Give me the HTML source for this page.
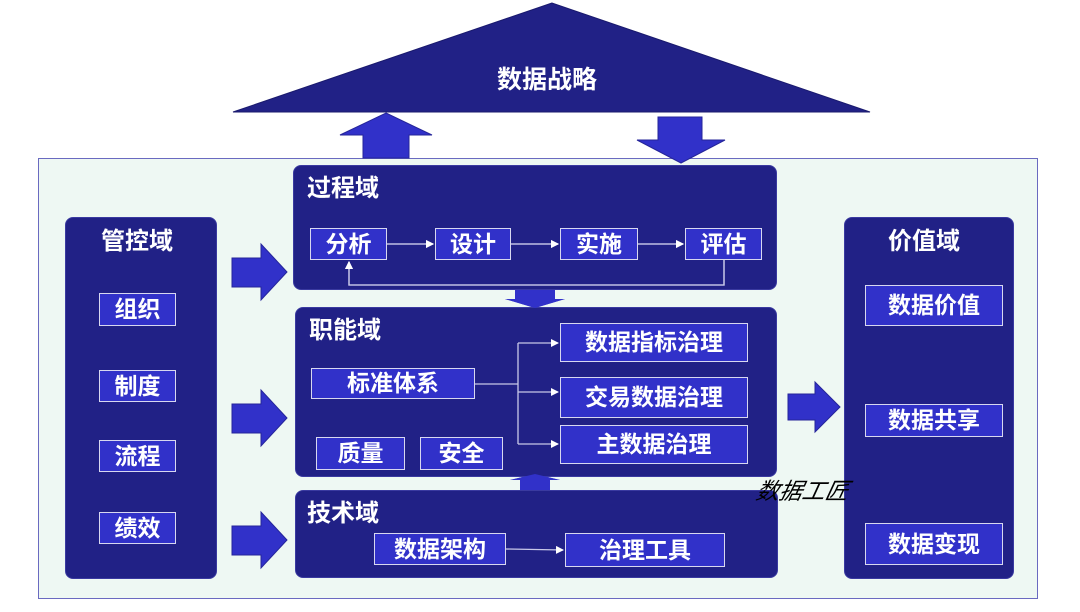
<!DOCTYPE html>
<html><head><meta charset="utf-8"><style>
body{margin:0;width:1080px;height:612px;background:#fff;position:relative;overflow:hidden;font-family:"Liberation Sans","Noto Sans CJK SC",sans-serif}
.a{position:absolute}
.box{position:absolute;background:#212186;border-radius:8px;border:1px solid #3a3aa0;box-sizing:border-box}
.t{position:absolute;color:#fff;font-weight:bold;font-size:24px;line-height:1}
.it{position:absolute;background:#3131c9;border:1.5px solid #d8d8f0;box-sizing:border-box;color:#fff;font-weight:bold;font-size:23px;display:flex;align-items:center;justify-content:center;line-height:1}
</style></head><body>
<div class="a" style="left:38px;top:158px;width:1000px;height:441px;background:#eef8f3;border:1.5px solid #6a6ac0;box-sizing:border-box"></div>
<svg class="a" style="left:0;top:0" width="1080" height="612">
<polygon points="552,3 233,112 870,112" fill="#212186" stroke="#1a1a6e"/>
<polygon points="386,113 432,135 409,135 409,158 363,158 363,135 340,135" fill="#3131c9" stroke="#25259a"/>
<polygon points="658,117 702,117 702,140 725,140 681,163 637,140 658,140" fill="#3131c9" stroke="#25259a"/>
<polygon points="232,258 261,258 261,244 287,272 261,300 261,287 232,287" fill="#3131c9" stroke="#25259a"/>
<polygon points="232,404 261,404 261,390 287,418 261,446 261,433 232,433" fill="#3131c9" stroke="#25259a"/>
<polygon points="232,526 261,526 261,512 287,540 261,568 261,555 232,555" fill="#3131c9" stroke="#25259a"/>
<polygon points="788,394 815,394 815,382 840,407 815,432 815,420 788,420" fill="#3131c9" stroke="#25259a"/>
<polygon points="515,290 555,290 555,299 565,299 535,308 505,299 515,299" fill="#3131c9"/>
<polygon points="535,474 560,480 550,480 550,490 520,490 520,480 510,480" fill="#3131c9"/>
</svg>
<div class="t" style="left:497px;top:68px;font-size:25px">数据战略</div>
<div class="box" style="left:65px;top:217px;width:152px;height:362px"></div>
<div class="t" style="left:101px;top:230px">管控域</div>
<div class="it" style="left:99px;top:293px;width:77px;height:33px">组织</div>
<div class="it" style="left:99px;top:370px;width:77px;height:32px">制度</div>
<div class="it" style="left:99px;top:440px;width:77px;height:32px">流程</div>
<div class="it" style="left:99px;top:512px;width:77px;height:32px">绩效</div>
<div class="box" style="left:844px;top:217px;width:170px;height:362px"></div>
<div class="t" style="left:888px;top:230px">价值域</div>
<div class="it" style="left:865px;top:285px;width:138px;height:41px">数据价值</div>
<div class="it" style="left:865px;top:404px;width:138px;height:33px">数据共享</div>
<div class="it" style="left:865px;top:523px;width:138px;height:42px">数据变现</div>
<div class="box" style="left:293px;top:165px;width:484px;height:125px"></div>
<div class="t" style="left:307px;top:177px">过程域</div>
<div class="it" style="left:310px;top:228px;width:77px;height:32px">分析</div>
<div class="it" style="left:435px;top:228px;width:76px;height:32px">设计</div>
<div class="it" style="left:560px;top:228px;width:78px;height:32px">实施</div>
<div class="it" style="left:685px;top:228px;width:77px;height:32px">评估</div>
<svg class="a" style="left:0;top:0" width="1080" height="612">
<defs><marker id="m" markerWidth="8" markerHeight="8" refX="7" refY="4" orient="auto" markerUnits="userSpaceOnUse"><path d="M0,0L8,4L0,8z" fill="#fff"/></marker></defs>
<g stroke="#c8c8e8" stroke-width="1.3" fill="none">
<line x1="387" y1="244" x2="433" y2="244" marker-end="url(#m)"/>
<line x1="511" y1="244" x2="558" y2="244" marker-end="url(#m)"/>
<line x1="638" y1="244" x2="683" y2="244" marker-end="url(#m)"/>
<polyline points="724,260 724,285 349,285 349,262" marker-end="url(#m)"/>
<polyline points="475,384 518,384"/>
<polyline points="518,343 518,444"/>
<line x1="518" y1="343" x2="558" y2="343" marker-end="url(#m)"/>
<line x1="518" y1="392" x2="558" y2="392" marker-end="url(#m)"/>
<line x1="518" y1="444" x2="558" y2="444" marker-end="url(#m)"/>
<line x1="506" y1="549" x2="563" y2="550" marker-end="url(#m)"/>
</g></svg>
<div class="box" style="left:295px;top:307px;width:482px;height:170px;z-index:-0"></div>
<div class="t" style="left:309px;top:319px">职能域</div>
<div class="it" style="left:311px;top:368px;width:164px;height:31px">标准体系</div>
<div class="it" style="left:316px;top:437px;width:89px;height:33px">质量</div>
<div class="it" style="left:420px;top:437px;width:83px;height:33px">安全</div>
<div class="it" style="left:560px;top:323px;width:188px;height:39px">数据指标治理</div>
<div class="it" style="left:560px;top:377px;width:188px;height:41px">交易数据治理</div>
<div class="it" style="left:560px;top:425px;width:188px;height:39px">主数据治理</div>
<div class="box" style="left:295px;top:490px;width:483px;height:88px"></div>
<div class="t" style="left:307px;top:502px">技术域</div>
<div class="it" style="left:374px;top:533px;width:132px;height:32px">数据架构</div>
<div class="it" style="left:565px;top:533px;width:160px;height:34px">治理工具</div>
<svg class="a" style="left:0;top:0" width="1080" height="612">
<g stroke="#c8c8e8" stroke-width="1.3" fill="none">
<polyline points="475,384 518,384"/><polyline points="518,343 518,444"/>
<line x1="518" y1="343" x2="558" y2="343" marker-end="url(#m)"/>
<line x1="518" y1="392" x2="558" y2="392" marker-end="url(#m)"/>
<line x1="518" y1="444" x2="558" y2="444" marker-end="url(#m)"/>
<polyline points="724,260 724,285 349,285 349,262" marker-end="url(#m)"/>
<line x1="387" y1="244" x2="433" y2="244" marker-end="url(#m)"/>
<line x1="511" y1="244" x2="558" y2="244" marker-end="url(#m)"/>
<line x1="638" y1="244" x2="683" y2="244" marker-end="url(#m)"/>
<line x1="506" y1="549" x2="563" y2="550" marker-end="url(#m)"/>
</g>
<polygon points="515,290 555,290 555,299 565,299 535,308 505,299 515,299" fill="#3131c9"/>
<polygon points="535,474 560,480 550,480 550,490 520,490 520,480 510,480" fill="#3131c9"/>
</svg>
<div class="a" style="left:757px;top:472px;font-size:23px;font-style:italic;color:#000;font-family:'Liberation Sans','Noto Sans CJK SC',sans-serif;transform:skewX(-12deg)">数据工匠</div>
</body></html>
